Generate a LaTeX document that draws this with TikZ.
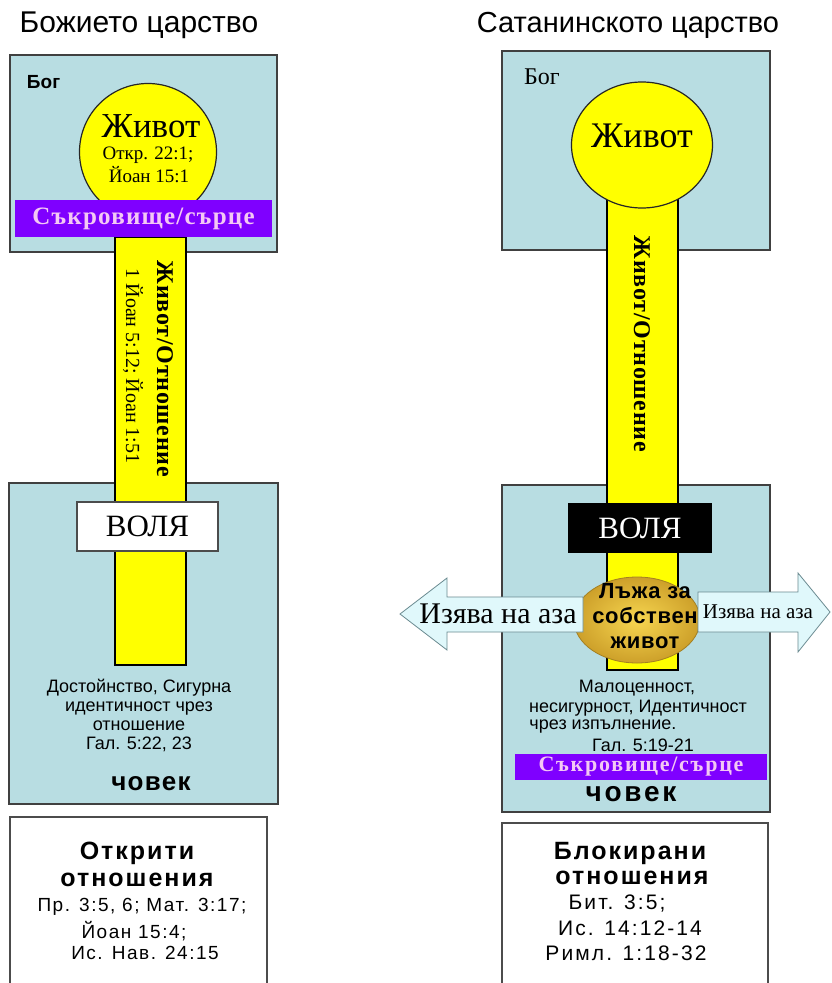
\documentclass[tikz,border=0pt]{standalone}
\usepackage{fontspec}
\setmainfont{Liberation Serif}
\setsansfont{Liberation Sans}
\usetikzlibrary{shapes.geometric}
\definecolor{panel}{HTML}{B8DDE2}
\definecolor{baryellow}{HTML}{FFFF00}
\definecolor{violetbar}{HTML}{7F00FF}
\definecolor{pinktxt}{HTML}{F4C8F4}
\definecolor{arrowfill}{HTML}{E0F8FB}
\definecolor{arrowline}{HTML}{6A8A90}
\definecolor{goldin}{HTML}{F7D650}
\definecolor{goldout}{HTML}{CDA02A}
\newcommand\fsz[2]{\fontsize{#1}{#2}\selectfont}
\newcommand\lsp[1]{\addfontfeature{LetterSpace=#1}}
\begin{document}
\begin{tikzpicture}[x=1pt,y=-1pt,
  txt/.style={inner sep=0pt, outer sep=0pt},
  panelbox/.style={draw=black!75, line width=1.5pt, fill=panel},
  whitebox/.style={draw=black!70, line width=1.2pt, fill=white},
  stem/.style={draw=black, line width=1.5pt, fill=baryellow},
  lifeshape/.style={draw=black!85, line width=1.2pt, fill=baryellow, inner sep=0pt},
  purplebar/.style={fill=violetbar, draw=none, inner sep=0pt, text=pinktxt, font=\bfseries\fsz{25}{25}\lsp{5}},
  arrowshape/.style={draw=arrowline, line width=0.8pt, fill=arrowfill},
  verse/.style={txt, font=\sffamily\fsz{18}{19}},
  refline/.style={txt, font=\sffamily\fsz{19}{19}\lsp{8}},
  refright/.style={txt, font=\sffamily\fsz{21}{21}\lsp{10}},
  boldhead/.style={txt, font=\sffamily\bfseries\fsz{25}{25}\lsp{8}}
]
\fill[white] (0,0) rectangle (832,983);
\useasboundingbox (0,0) rectangle (832,983);

% ---------------- Left panel ----------------
\node[txt, font=\sffamily\fsz{30}{30}] (titleL) at (139,25) {Божието царство};
\draw[panelbox] (10,55) rectangle (277,252);
\draw[panelbox] (9,483) rectangle (278,804);
\node[txt, font=\sffamily\bfseries\fsz{19}{19}, anchor=west] (godL) at (27,82) {Бог};
\draw[stem] (115,237) rectangle (186,665);
\node[lifeshape, circle, minimum size=137pt] (lifeL) at (148,152) {};
\node[txt, font=\fsz{35}{35}] (lifeLt) at (151,126) {Живот};
\node[txt, font=\fsz{19}{19}] (refL1) at (148,155) {Откр. 22:1;};
\node[txt, font=\fsz{19}{19}] (refL2) at (149,175) {Йоан 15:1};
\node[purplebar, minimum width=257pt, minimum height=37pt] (treasL) at (143.5,218.5) {Съкровище/сърце};
\node[txt, rotate=-90, font=\bfseries\fsz{24}{24}\lsp{3}] (relL1) at (165,369) {Живот/Отношение};
\node[txt, rotate=-90, font=\fsz{20}{20}] (relL2) at (133,366) {1 Йоан 5:12; Йоан 1:51};
\node[whitebox, minimum width=141pt, minimum height=49pt, font=\fsz{31}{31}] (willL) at (147.5,526.5) {ВОЛЯ};
\node[verse, align=center] (dignity) at (139,715) {Достойнство, Сигурна\\идентичност чрез\\отношение\\Гал. 5:22, 23};
\node[txt, font=\sffamily\bfseries\fsz{26}{26}\lsp{5}] (manL) at (151,784) {човек};
\draw[whitebox] (10,817) rectangle (267,995);
\node[boldhead] (openL1) at (137,853) {Открити};
\node[boldhead] (openL2) at (137,880) {отношения};
\node[refline] (openL3) at (142,907) {Пр. 3:5, 6; Мат. 3:17;};
\node[refline] (openL4) at (134,931) {Йоан 15:4;};
\node[refline] (openL5) at (145,953) {Ис. Нав. 24:15};

% ---------------- Right panel ----------------
\node[txt, font=\sffamily\fsz{29}{29}] (titleR) at (628,25) {Сатанинското царство};
\draw[panelbox] (502,51) rectangle (770,250);
\draw[panelbox] (502,485) rectangle (770,812);
\node[txt, font=\fsz{24}{24}] (godR) at (542,77) {Бог};
\draw[stem] (607,195) rectangle (678,670);
\node[lifeshape, ellipse, minimum width=141pt, minimum height=126pt] (lifeR) at (642,145) {};
\node[txt, font=\fsz{36}{36}] (lifeRt) at (642,136) {Живот};
\node[txt, rotate=-90, font=\bfseries\fsz{24}{24}\lsp{3}] (relR) at (642,344) {Живот/Отношение};
\node[fill=black, minimum width=144pt, minimum height=50pt, inner sep=0pt, text=white, font=\fsz{31}{31}] (willR) at (640,528) {ВОЛЯ};
\node[ellipse, draw=goldout!80!black, line width=0.8pt, inner color=goldin, outer color=goldout, minimum width=126pt, minimum height=86pt] (lie) at (637,620) {};
\draw[arrowshape] (400,614) -- (447,578) -- (447,597) -- (583,597) -- (583,632) -- (447,632) -- (447,650) -- cycle;
\draw[arrowshape] (698,592) -- (798,592) -- (798,573) -- (830,612) -- (798,652) -- (798,632) -- (698,632) -- cycle;
\node[txt, align=center, font=\sffamily\bfseries\fsz{22}{25}\lsp{3}] (lieT) at (645,616) {Лъжа за\\собствен\\живот};
\node[txt, font=\fsz{30}{30}] (selfL) at (498,614) {Изява на аза};
\node[txt, font=\fsz{21}{21}] (selfR) at (758,612) {Изява на аза};
\node[verse] (low1) at (637,688) {Малоценност,};
\node[verse] (low2) at (638,708) {несигурност, Идентичност};
\node[verse] (low3) at (603,727) {чрез изпълнение.};
\node[verse] (low4) at (643,745) {Гал. 5:19-21};
\node[purplebar, minimum width=252pt, minimum height=26pt, font=\bfseries\fsz{22}{22}\lsp{8}] (treasR) at (641,767) {Съкровище/сърце};
\node[txt, font=\sffamily\bfseries\fsz{28}{28}\lsp{10}] (manR) at (631,794) {човек};
\draw[whitebox] (502,823) rectangle (768,995);
\node[boldhead] (blockR1) at (630,853) {Блокирани};
\node[boldhead] (blockR2) at (632,878) {отношения};
\node[refright] (blockR3) at (617,904) {Бит. 3:5;};
\node[refright] (blockR4) at (630,928) {Ис. 14:12-14};
\node[refright] (blockR5) at (626,953) {Римл. 1:18-32};
\end{tikzpicture}
\end{document}
